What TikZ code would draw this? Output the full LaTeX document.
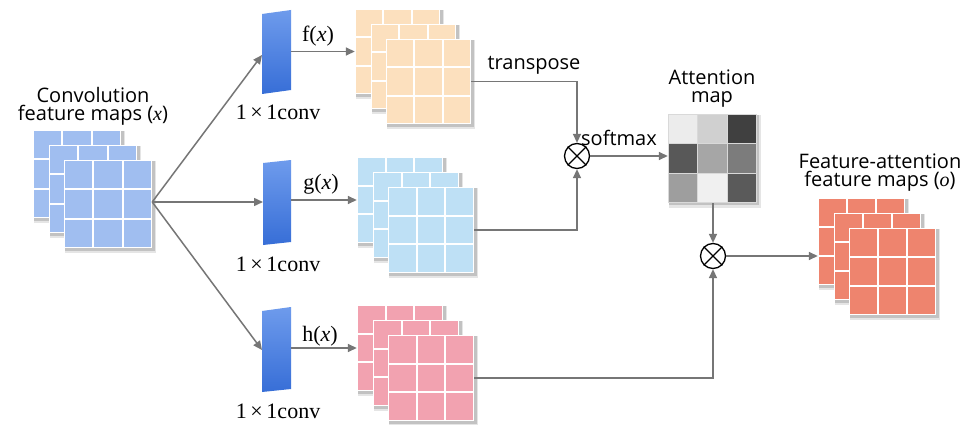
\documentclass[tikz,border=0pt]{standalone}
\usepackage{fontspec}
\setmainfont{Liberation Serif}
\newfontfamily\labfont{Open Sans}
\usetikzlibrary{arrows.meta}

\definecolor{arrowgray}{RGB}{118,118,118}
\definecolor{inblue}{RGB}{160,190,240}
\definecolor{peach}{RGB}{252,224,190}
\definecolor{lblue}{RGB}{190,224,245}
\definecolor{pinkc}{RGB}{242,162,176}
\definecolor{salmon}{RGB}{238,132,110}
\definecolor{convtop}{RGB}{110,155,236}
\definecolor{convbot}{RGB}{55,110,215}

\newcommand\fmsheet[5]{%
  \fill[black, opacity=.10] ({#1+1},{#2+1}) rectangle ++({#3+3},{#3+4});
  \fill[black, opacity=.15] ({#1+1},{#2+1}) rectangle ++({#3+1.5},{#3+2});
  \fill[white] (#1,#2) rectangle ++(#3,#3);
  \foreach \i in {0,1,2}{\foreach \j in {0,1,2}{
    \fill[#4] ({#1+\i*#3/3+1},{#2+\j*#3/3+1}) rectangle ++({#3/3-2},{#3/3-2});}}
  \node[inner sep=0, minimum size=#3pt] (#5) at ({#1+#3/2},{#2+#3/2}) {};
}
\newcommand\fmstack[5]{%
  \fmsheet{#1}{#2}{#3}{#4}{#5-b}
  \fmsheet{#1+16}{#2+15}{#3}{#4}{#5-m}
  \fmsheet{#1+31}{#2+30}{#3}{#4}{#5-f}
}

\tikzset{
  conn/.style={draw=arrowgray, line width=1.5pt, -{Triangle[length=9pt,width=8pt]}},
  lab/.style={font=\labfont\fontsize{20}{20}\selectfont, inner sep=0, anchor=base},
  lab2/.style={font=\labfont\fontsize{20}{18}\selectfont, inner sep=0, align=center},
  serlab/.style={font=\fontsize{22}{22}\selectfont, inner sep=0, anchor=base},
  mult/.style={circle, draw=black, line width=1.3pt, minimum size=25pt, inner sep=0},
}

\begin{document}
\begin{tikzpicture}[x=1pt, y=-1pt]
\fill[white] (0,0) rectangle (979,425);
\useasboundingbox (0,0) rectangle (979,425);

% input stack
\fmstack{33}{130}{88}{inblue}{in}
\node[lab2] (tconv) at (93,106) {Convolution\\feature maps ({\rmfamily\itshape x})};

% conv blocks
\shade[top color=convtop, bottom color=convbot] (262,14) -- (291,10) -- (291,90) -- (262,94) -- cycle;
\shade[top color=convtop, bottom color=convbot] (263,163) -- (291,160) -- (291,242) -- (263,245) -- cycle;
\shade[top color=convtop, bottom color=convbot] (262,311) -- (291,307) -- (291,389) -- (262,392) -- cycle;
\coordinate (c1in) at (262,55);
\coordinate (c2in) at (263,202);
\coordinate (c3in) at (262,350);
\coordinate (c1out) at (291,51.5);
\coordinate (c2out) at (291,200);
\coordinate (c3out) at (291,348);
\node[serlab] (k1) at (278,120) {1\,×\,1conv};
\node[serlab] (k2) at (278,271) {1\,×\,1conv};
\node[serlab] (k3) at (278,418) {1\,×\,1conv};

% feature stacks
\fmstack{355}{9}{85}{peach}{fs}
\fmstack{357}{157}{86}{lblue}{gs}
\fmstack{357}{305}{86}{pinkc}{hs}

\node[serlab] (fx) at (318,42) {f(\textit{x})};
\node[serlab] (gx) at (321,189) {g(\textit{x})};
\node[serlab] (hx) at (320,341) {h(\textit{x})};

% attention map
\fill[black, opacity=.10] (669,115) rectangle ++(92,93);
\fill[black, opacity=.15] (669,115) rectangle ++(90,90);
\fill[white!85!black] (668,114) rectangle ++(89,89);
\foreach \c [count=\k from 0] in {236,208,64,88,166,124,158,240,90}{
  \pgfmathtruncatemacro\ci{mod(\k,3)}
  \pgfmathtruncatemacro\cj{div(\k,3)}
  \definecolor{cellc}{RGB}{\c,\c,\c}
  \fill[cellc] ({668+\ci*89/3+0.8},{114+\cj*89/3+0.8}) rectangle ++({89/3-1.6},{89/3-1.6});
}
\node[inner sep=0, minimum size=89pt] (att) at (712.5,158.5) {};
\node[lab2] (tatt) at (712,89) {Attention\\map};

% multiplication nodes
\node[mult] (m1) at (577,156) {};
\draw[line width=1.3pt] (m1.45) -- (m1.225) (m1.135) -- (m1.315);
\node[mult] (m2) at (713,256) {};
\draw[line width=1.3pt] (m2.45) -- (m2.225) (m2.135) -- (m2.315);

% output stack
\fmstack{818}{198}{87}{salmon}{os}
\node[lab2] (tout) at (880,173) {Feature-attention\\feature maps ({\rmfamily\itshape o})};

\node[lab] (ttr) at (534,70) {transpose};
\node[lab] (tsm) at (619,145) {softmax};

% connectors
\draw[conn] ([yshift=2pt]in-f.east) -- (c1in);
\draw[conn] ([yshift=2pt]in-f.east) -- (c2in);
\draw[conn] ([yshift=2pt]in-f.east) -- (c3in);
\draw[conn] (c1out) -- (fs-b.west);
\draw[conn] (c2out) -- (gs-b.west);
\draw[conn] (c3out) -- (hs-b.west);
\draw[conn] (fs-f.east) -| (m1.north);
\draw[conn] (gs-f.east) -| (m1.south);
\draw[conn] (m1.east) -- (m1 -| att.west);
\draw[conn] (att.south -| m2) -- (m2.north);
\draw[conn] (hs-f.east) -| (m2.south);
\draw[conn] (m2.east) -- (m2 -| os-b.west);
\end{tikzpicture}
\end{document}
